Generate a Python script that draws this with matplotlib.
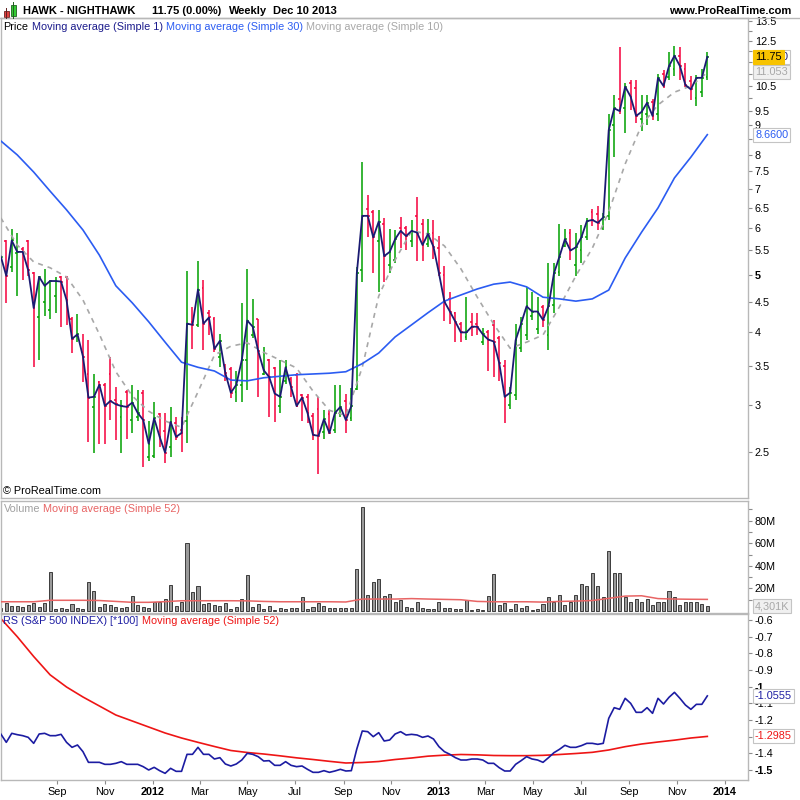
import numpy as np
import pandas as pd
import matplotlib
matplotlib.use("Agg")
import matplotlib.pyplot as plt
import matplotlib.dates as mdates
from matplotlib.ticker import NullLocator
from matplotlib.offsetbox import TextArea, HPacker, AnchoredOffsetbox
from matplotlib.patches import Rectangle
from matplotlib.lines import Line2D

plt.rcParams["font.family"] = ["Liberation Sans", "DejaVu Sans"]
plt.rcParams["font.size"] = 8

# weekly bars, last one is Dec 10 2013
dates = pd.date_range(end="2013-12-10", periods=130, freq="7D")

opens = [5.20, 5.70, 5.15, 5.45, 5.54, 5.70, 5.03, 4.23, 4.50, 4.36,
         4.60, 4.96, 4.95, 4.21, 3.93, 3.70, 3.39, 2.98, 3.28, 3.25,
         3.39, 3.06, 2.86, 3.16, 2.83, 2.86, 3.15, 2.45, 2.46, 2.90,
         2.71, 2.55, 2.80, 2.72, 2.82, 4.15, 4.10, 4.75, 4.30, 4.21,
         3.63, 3.48, 3.46, 3.16, 3.25, 3.58, 3.95, 4.20, 3.39, 3.58,
         3.47, 2.99, 3.30, 3.33, 3.38, 3.12, 3.10, 2.88, 2.95, 2.70,
         2.90, 2.72, 2.90, 3.05, 2.85, 3.20, 5.10, 6.47, 6.40, 5.70,
         6.10, 5.20, 5.30, 6.00, 6.00, 5.70, 6.30, 6.10, 5.65, 5.90,
         5.55, 5.00, 4.55, 4.30, 4.12, 3.92, 4.15, 4.12, 3.85, 4.00,
         4.10, 3.90, 3.50, 3.00, 3.12, 3.75, 3.95, 4.25, 4.05, 4.40,
         3.95, 4.45, 5.05, 5.60, 5.90, 5.20, 5.50, 5.80, 6.40, 6.35,
         6.00, 6.30, 8.99, 9.95, 9.60, 10.60, 10.40, 9.20, 9.40, 9.85,
         9.40, 11.00, 10.85, 11.20, 11.80, 11.20, 10.70, 10.00, 10.25, 10.85]
highs = [5.70, 5.74, 5.98, 5.89, 5.58, 5.73, 5.06, 4.98, 5.12, 4.90,
         4.95, 4.98, 4.98, 4.23, 4.28, 3.97, 3.87, 3.39, 3.30, 3.27,
         3.63, 3.22, 3.06, 3.18, 3.25, 3.18, 3.18, 2.82, 3.04, 2.91,
         2.91, 2.98, 2.86, 2.86, 5.07, 4.41, 5.27, 4.90, 4.35, 4.23,
         3.97, 3.52, 3.49, 3.43, 4.48, 5.12, 4.55, 4.21, 3.77, 3.60,
         3.49, 3.58, 3.58, 3.35, 3.40, 3.14, 3.14, 2.91, 3.10, 2.94,
         2.94, 3.25, 3.25, 3.14, 3.21, 5.15, 7.79, 6.83, 6.45, 6.45,
         6.24, 5.98, 5.96, 6.26, 6.05, 6.20, 6.78, 6.22, 6.22, 6.19,
         5.82, 5.17, 4.68, 4.33, 4.16, 4.59, 4.30, 4.30, 4.06, 4.03,
         4.19, 3.93, 3.58, 3.22, 4.13, 4.23, 4.77, 4.68, 4.59, 4.44,
         5.24, 5.24, 6.11, 5.98, 5.98, 5.88, 6.08, 6.25, 6.47, 6.55,
         6.38, 9.40, 10.11, 12.23, 10.60, 10.73, 10.73, 10.11, 10.11, 9.95,
         11.00, 11.16, 11.97, 12.28, 12.23, 11.46, 10.89, 10.95, 11.20, 11.97]
lows = [5.00, 4.48, 5.06, 4.60, 4.90, 4.98, 3.49, 3.58, 4.26, 4.20,
        4.30, 4.08, 4.11, 3.68, 3.85, 3.28, 2.60, 2.49, 2.58, 2.58,
        2.83, 2.62, 2.49, 2.63, 2.69, 2.82, 2.35, 2.41, 2.44, 2.55,
        2.39, 2.45, 2.62, 2.50, 2.59, 3.74, 4.08, 3.72, 3.95, 3.70,
        3.49, 3.30, 3.09, 3.04, 3.04, 3.18, 3.90, 3.10, 3.37, 2.86,
        2.81, 2.91, 3.26, 3.10, 2.98, 2.82, 2.80, 2.62, 2.29, 2.63,
        2.68, 2.69, 2.86, 2.69, 2.82, 3.18, 4.86, 5.80, 5.03, 4.68,
        4.86, 5.03, 5.24, 5.55, 5.51, 5.58, 5.27, 5.27, 5.58, 5.33,
        4.98, 4.18, 4.13, 3.85, 3.85, 3.87, 3.93, 3.95, 3.80, 3.43,
        3.35, 3.30, 2.80, 2.95, 3.06, 3.70, 3.87, 4.19, 3.97, 4.08,
        3.72, 4.30, 4.98, 5.58, 5.30, 4.98, 5.24, 5.73, 6.05, 5.96,
        5.96, 6.20, 7.93, 9.40, 8.72, 9.54, 9.06, 8.77, 8.99, 9.17,
        9.15, 10.40, 10.73, 10.89, 10.73, 10.45, 9.92, 9.68, 10.03, 10.73]
closes = [5.37, 4.98, 5.72, 5.47, 5.47, 5.09, 4.39, 4.96, 4.79, 4.88,
          4.88, 4.87, 4.53, 3.89, 3.96, 3.63, 3.09, 3.10, 3.25, 2.99,
          3.05, 3.01, 2.99, 2.98, 3.03, 2.91, 2.83, 2.58, 2.85, 2.65,
          2.49, 2.81, 2.65, 2.69, 4.13, 4.11, 4.72, 4.13, 4.23, 3.74,
          3.86, 3.40, 3.15, 3.25, 3.58, 4.18, 4.08, 3.71, 3.44, 3.35,
          3.14, 3.10, 3.48, 3.22, 2.99, 3.09, 2.91, 2.67, 2.66, 2.84,
          2.69, 2.91, 2.98, 2.83, 2.99, 5.03, 6.30, 6.30, 5.79, 6.16,
          5.38, 5.47, 5.75, 5.94, 5.82, 5.94, 5.90, 5.62, 5.87, 5.58,
          5.03, 4.50, 4.33, 4.16, 3.99, 3.99, 4.08, 4.08, 3.96, 3.88,
          3.85, 3.54, 3.10, 3.15, 3.87, 4.13, 4.42, 4.33, 4.33, 4.19,
          4.42, 5.03, 5.37, 5.75, 5.50, 5.57, 5.79, 6.17, 6.20, 6.13,
          6.26, 8.82, 9.60, 9.50, 10.45, 10.05, 9.32, 9.47, 9.81, 9.32,
          10.82, 10.48, 11.33, 11.80, 11.33, 10.52, 10.34, 10.82, 10.82, 11.75]

# moving averages, every third week
ma10 = [6.25, 5.62, 5.26, 5.14, 4.96, 4.53, 3.96, 3.42, 3.11, 2.93,
        2.82, 2.75, 3.16, 3.65, 3.78, 3.83, 3.69, 3.58, 3.47, 3.17,
        2.94, 2.88, 3.48, 4.60, 5.30, 5.94, 5.87, 5.60, 5.12, 4.58,
        4.12, 3.75, 3.84, 3.95, 4.41, 4.98, 5.55, 6.40, 7.72, 8.99,
        9.73, 10.23, 10.48, 11.05]
ma30 = [8.45, 8.00, 7.48, 6.94, 6.45, 5.96, 5.40, 4.79, 4.48, 4.16,
        3.84, 3.55, 3.48, 3.43, 3.31, 3.30, 3.34, 3.36, 3.38, 3.39,
        3.40, 3.42, 3.53, 3.68, 3.92, 4.11, 4.31, 4.51, 4.62, 4.73,
        4.82, 4.86, 4.77, 4.58, 4.55, 4.51, 4.55, 4.71, 5.34, 5.91,
        6.50, 7.31, 7.93, 8.66]

# volume in millions of shares
volume = [3.0, 6.8, 4.4, 4.4, 3.3, 5.3, 6.8, 3.3, 6.8, 34.2,
          1.8, 2.4, 1.5, 5.9, 2.4, 1.8, 25.4, 18.0, 3.3, 5.9,
          5.3, 3.3, 2.4, 3.3, 13.0, 5.3, 3.3, 2.4, 7.7, 7.7,
          10.3, 23.0, 4.4, 7.7, 59.9, 16.5, 22.1, 5.9, 6.8, 5.3,
          4.4, 6.8, 1.5, 3.3, 10.3, 31.9, 3.3, 5.9, 1.5, 4.7,
          0.6, 2.4, 1.5, 2.4, 2.4, 12.1, 1.5, 3.3, 6.8, 4.4,
          2.4, 2.4, 2.4, 2.4, 2.4, 37.2, 91.8, 14.2, 25.4, 28.1,
          13.3, 14.8, 7.7, 9.7, 3.3, 2.4, 8.2, 2.4, 1.8, 1.8,
          7.7, 2.4, 2.4, 1.8, 1.8, 9.7, 0.9, 1.5, 0.9, 13.3,
          32.5, 5.3, 6.8, 1.5, 5.9, 2.4, 4.4, 0.9, 1.5, 5.9,
          12.1, 7.7, 14.2, 5.3, 7.7, 14.2, 23.6, 22.1, 33.3, 22.1,
          12.1, 53.1, 33.3, 33.3, 12.1, 7.7, 10.3, 8.2, 10.3, 5.3,
          7.7, 7.7, 18.0, 12.1, 5.3, 7.7, 8.2, 8.2, 5.9, 4.3]
vol_ma52 = [8.2, 8.2, 8.2, 9.5, 9.5, 9.5, 9.3, 8.5, 7.7, 7.7,
            8.3, 9.1, 9.1, 9.1, 9.1, 9.0, 8.5, 8.2, 8.2, 8.2,
            8.2, 8.0, 10.6, 10.6, 10.6, 11.0, 10.6, 10.3, 10.0, 8.5,
            8.2, 8.2, 8.2, 7.9, 8.5, 8.8, 9.3, 11.2, 13.2, 13.5,
            11.0, 10.6, 10.4, 10.3]

# relative strength vs S&P 500
rs = [-1.284, -1.334, -1.280, -1.288, -1.294, -1.304, -1.340, -1.284, -1.280, -1.294,
      -1.294, -1.286, -1.334, -1.364, -1.350, -1.390, -1.454, -1.454, -1.454, -1.466,
      -1.466, -1.460, -1.450, -1.466, -1.466, -1.466, -1.480, -1.500, -1.484, -1.504,
      -1.520, -1.490, -1.508, -1.508, -1.406, -1.406, -1.364, -1.406, -1.406, -1.434,
      -1.426, -1.464, -1.476, -1.464, -1.440, -1.400, -1.406, -1.420, -1.446, -1.444,
      -1.472, -1.472, -1.450, -1.472, -1.480, -1.476, -1.496, -1.514, -1.514, -1.504,
      -1.514, -1.506, -1.496, -1.506, -1.504, -1.374, -1.266, -1.270, -1.300, -1.276,
      -1.326, -1.320, -1.284, -1.270, -1.290, -1.286, -1.290, -1.304, -1.296, -1.314,
      -1.360, -1.390, -1.406, -1.426, -1.440, -1.440, -1.434, -1.434, -1.440, -1.460,
      -1.460, -1.486, -1.506, -1.506, -1.466, -1.444, -1.420, -1.434, -1.440, -1.454,
      -1.426, -1.396, -1.376, -1.352, -1.364, -1.364, -1.354, -1.340, -1.340, -1.346,
      -1.340, -1.190, -1.126, -1.136, -1.070, -1.100, -1.154, -1.154, -1.126, -1.160,
      -1.070, -1.104, -1.064, -1.034, -1.070, -1.110, -1.136, -1.106, -1.106, -1.0555]
rs_ma52 = [-0.591, -0.700, -0.819, -0.929, -1.002, -1.062, -1.116, -1.170, -1.206, -1.242,
           -1.278, -1.308, -1.334, -1.359, -1.383, -1.395, -1.404, -1.415, -1.427, -1.437,
           -1.448, -1.458, -1.455, -1.449, -1.437, -1.428, -1.417, -1.411, -1.407, -1.409,
           -1.413, -1.414, -1.414, -1.412, -1.407, -1.401, -1.394, -1.380, -1.360, -1.344,
           -1.332, -1.321, -1.308, -1.2985]

price_ticks = [2.5, 3, 3.5, 4, 4.5, 5, 5.5, 6, 6.5, 7, 7.5, 8, 8.5, 9, 9.5,
               10, 10.5, 11, 11.5, 12, 12.5, 13, 13.5]
price_shown = [2.5, 3, 3.5, 4, 4.5, 5, 5.5, 6, 6.5, 7, 7.5, 8, 9, 9.5, 10.5, 12.5, 13.5]
rs_ticks = [-0.6, -0.7, -0.8, -0.9, -1.0, -1.1, -1.2, -1.3, -1.4, -1.5]
rs_labels = ["-0.6", "-0.7", "-0.8", "-0.9", "-1", "-1.1", "-1.2", "", "-1.4", "-1.5"]

GREEN = "#00a000"
RED = "#f5003c"
NAVY = "#1b1b72"
BLUE = "#2b5cf2"
GREY_MA = "#a8a8a8"
FRAME = "#b8b8b8"
FS = 7.8

fig = plt.figure(figsize=(8, 8), dpi=100)


def panel(top, bottom):
    # panel given in pixels from the top of the 800x800 picture
    return fig.add_axes([0.5 / 800, 1 - bottom / 800, 747.5 / 800, (bottom - top) / 800])


ax_p = panel(18, 498)
ax_v = panel(501.5, 612.5)
ax_r = panel(614, 780)

x = mdates.date2num(dates)
x_ma = x[::3]
xmin, xmax = x[0] - 0.4, x[0] + 955

for ax in (ax_p, ax_v, ax_r):
    ax.set_xlim(xmin, xmax)
    for s in ax.spines.values():
        s.set_color(FRAME)
        s.set_linewidth(1.0)
    ax.yaxis.tick_right()
    ax.tick_params(axis="y", which="both", direction="out", length=3, width=0.8,
                   color="#8c8c8c", labelsize=FS, pad=2, labelcolor="black")
    ax.tick_params(axis="x", which="both", bottom=False, labelbottom=False, top=False)


def value_tag(ax, y, text, color, face="white", edge="#c4c4c4"):
    return ax.text(1 + 7 / 747.5, y, text, transform=ax.get_yaxis_transform(), ha="left",
                   va="center", fontsize=FS, color=color, clip_on=False, zorder=20,
                   bbox=dict(boxstyle="square,pad=0.18", fc=face, ec=edge, lw=0.8))


def legend(ax, parts, dy_px):
    boxes = [TextArea(t, textprops=dict(color=col, fontsize=FS)) for t, col in parts]
    pack = HPacker(children=boxes, align="baseline", pad=0, sep=2.2)
    box = AnchoredOffsetbox(loc="upper left", child=pack, pad=0, borderpad=0, frameon=False,
                            bbox_to_anchor=(3 / 747.5, 1 - dy_px / ax.bbox.height),
                            bbox_transform=ax.transAxes)
    ax.add_artist(box)


# price panel
o, h, l, c = map(np.array, (opens, highs, lows, closes))
col = np.where(c >= o, GREEN, RED)
ax_p.vlines(x, l, h, colors=col, lw=1.1, zorder=2)
ax_p.hlines(o, x - 2.3, x, colors=col, lw=1.1, zorder=2)
ax_p.hlines(c, x, x + 2.3, colors=col, lw=1.1, zorder=2)
ax_p.plot(x_ma, ma10, color=GREY_MA, lw=1.2, ls=(0, (3, 3)), zorder=3)
ax_p.plot(x_ma, ma30, color=BLUE, lw=1.2, zorder=3)
ax_p.plot(x, c, color=NAVY, lw=1.3, zorder=4)
ax_p.set_yscale("log")
ax_p.set_ylim(2.085, 13.68)
ax_p.set_yticks(price_ticks, ["%g" % t if t in price_shown else "" for t in price_ticks])
ax_p.yaxis.set_minor_locator(NullLocator())
for t in ax_p.get_yticklabels():
    if t.get_text() == "5":
        t.set_fontweight("bold")

value_tag(ax_p, 8.66, "8.6600", BLUE)
value_tag(ax_p, 11.053, "11.053", "#a8a8a8", face="#f0f0f0")
last = value_tag(ax_p, 11.75, "11.75", "black", face="#f7c300", edge="#f7c300")
ax_p.annotate("0", xy=(1, 0.5), xycoords=last, ha="left", va="center", fontsize=FS,
              color=NAVY, annotation_clip=False, zorder=19,
              bbox=dict(boxstyle="square,pad=0.18", fc="white", ec="#c4c4c4", lw=0.8))

legend(ax_p, [("Price", "black"), ("Moving average (Simple 1)", "#1b1b8c"),
              ("Moving average (Simple 30)", BLUE), ("Moving average (Simple 10)", GREY_MA)], 4)
ax_p.text(3 / 747.5, 7 / 480, "© ProRealTime.com", transform=ax_p.transAxes, va="center", fontsize=FS)

# volume panel
ax_v.bar(x, volume, width=3.9, color="#9a9a9a", edgecolor="#3c3c3c", linewidth=0.7, zorder=2)
ax_v.plot(x_ma, vol_ma52, color="#e86464", lw=1.1, zorder=3)
ax_v.set_ylim(-1.3, 96.9)
ax_v.set_yticks([20, 40, 60, 80], ["20M", "40M", "60M", "80M"])
ax_v.set_yticks([10, 30, 50, 70, 90], minor=True)
value_tag(ax_v, 4.301, "4,301K", "#a8a8a8", face="#f0f0f0")
legend(ax_v, [("Volume", "#a0a0a0"), ("Moving average (Simple 52)", "#e86464")], 3)

# relative strength panel
ax_r.plot(x_ma, rs_ma52, color="#ee1515", lw=1.2, zorder=2)
ax_r.plot(x, rs, color="#1c1ca2", lw=1.2, zorder=3)
ax_r.set_ylim(-1.56, -0.564)
ax_r.set_yticks(rs_ticks, rs_labels)
for t in ax_r.get_yticklabels():
    if t.get_text() in ("-1", "-1.5"):
        t.set_fontweight("bold")
value_tag(ax_r, -1.0555, "-1.0555", "#1c1ca2")
value_tag(ax_r, -1.2985, "-1.2985", "#ee1515")
legend(ax_r, [("RS (S&P 500 INDEX) [*100]", "#1c1ca2"), ("Moving average (Simple 52)", "#ee1515")], 2)

months = pd.date_range("2011-09-01", "2014-01-01", freq="2MS")
month_labels = [str(d.year) if d.month == 1 else d.strftime("%b") for d in months]
ax_r.set_xticks(mdates.date2num(months), month_labels)
ax_r.tick_params(axis="x", bottom=True, labelbottom=True, length=3, width=0.8,
                 color="#8c8c8c", labelsize=FS, pad=2)
for t in ax_r.get_xticklabels():
    if t.get_text().isdigit():
        t.set_fontweight("bold")

# header
fig.add_artist(Line2D([0, 1], [1 - 18 / 800] * 2, color=FRAME, lw=1.0))
fig.add_artist(Line2D([6 / 800] * 2, [1 - 8 / 800, 1 - 18 / 800], color="#602020", lw=0.7))
fig.add_artist(Rectangle((3.5 / 800, 1 - 16.5 / 800), 5 / 800, 6 / 800, transform=fig.transFigure,
                         fc="#e04040", ec="#702020", lw=0.6))
fig.add_artist(Line2D([13.2 / 800] * 2, [1 - 2 / 800, 1 - 18 / 800], color="#206020", lw=0.7))
fig.add_artist(Rectangle((10.7 / 800, 1 - 15.5 / 800), 5 / 800, 10.5 / 800, transform=fig.transFigure,
                         fc="#33cc33", ec="#206020", lw=0.6))
for xp, txt in [(23, "HAWK - NIGHTHAWK"), (152, "11.75 (0.00%)"), (229, "Weekly"), (273, "Dec 10 2013")]:
    fig.text(xp / 800, 1 - 10.5 / 800, txt, va="center", ha="left", fontsize=8, fontweight="bold")
fig.text(791 / 800, 1 - 10.5 / 800, "www.ProRealTime.com", va="center", ha="right",
         fontsize=8, fontweight="bold")

fig.savefig("out.png", dpi=100)
